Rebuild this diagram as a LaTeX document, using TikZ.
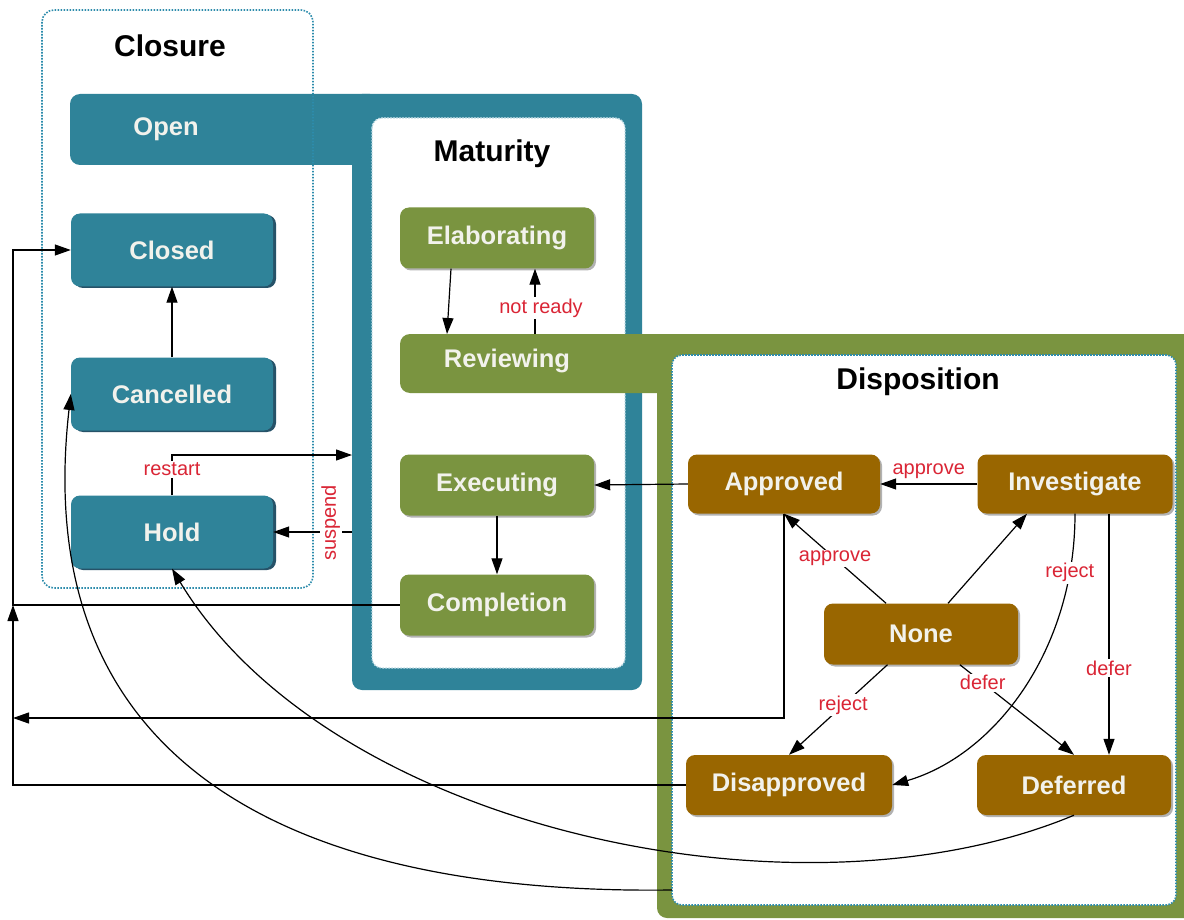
\documentclass[tikz,border=0pt]{standalone}
\usepackage{fontspec}
\setmainfont{Liberation Sans}
\usetikzlibrary{arrows.meta,shadows,calc}

\definecolor{closureteal}{RGB}{47,131,153}
\definecolor{closureshade}{RGB}{38,82,104}
\definecolor{maturitygreen}{RGB}{122,148,64}
\definecolor{dispbrown}{RGB}{153,102,0}
\definecolor{dotline}{RGB}{45,140,172}
\definecolor{labelred}{RGB}{218,37,53}
\definecolor{statetext}{RGB}{242,242,236}

\tikzset{
  statebox/.style={rounded corners=9pt, inner sep=0pt, text=statetext,
    font=\fontsize{25.5}{30}\selectfont\bfseries},
  closurestate/.style={statebox, fill=closureteal,
    drop shadow={shadow xshift=3pt, shadow yshift=-1.5pt, fill=closureshade, opacity=1},
    minimum width=202pt, minimum height=73pt},
  maturitystate/.style={statebox, fill=maturitygreen,
    drop shadow={shadow xshift=2pt, shadow yshift=-2pt, fill=black, opacity=0.3},
    minimum width=194pt, minimum height=61pt},
  dispstate/.style={statebox, fill=dispbrown,
    drop shadow={shadow xshift=2pt, shadow yshift=-2pt, fill=black, opacity=0.3},
    minimum height=59pt},
  grouptitle/.style={font=\fontsize{30}{34}\selectfont\bfseries, text=black},
  bandtext/.style={font=\fontsize{25.5}{30}\selectfont\bfseries, text=statetext},
  lbl/.style={text=labelred, font=\fontsize{20}{24}\selectfont, fill=white, inner sep=1.5pt},
  flow/.style={draw=black, line width=1.2pt, -{Triangle[length=16pt,width=11pt]}},
  dotborder/.style={draw=dotline, line width=1.6pt, dash pattern=on 1.6pt off 1.4pt},
}

\begin{document}
\begin{tikzpicture}[x=1pt,y=-1pt]
  \useasboundingbox (0,0) rectangle (1184,920);
  \clip (0,0) rectangle (1184,920);

  % Closure group background
  \fill[white, rounded corners=12pt] (42,10) rectangle (313,588);

  % Open band with the Maturity frame
  \fill[closureteal, rounded corners=10pt] (70,94) rectangle (380,165);
  \fill[closureteal, rounded corners=10pt] (352,94) rectangle (642,690);
  \filldraw[fill=white, draw=white!70!dotline, line width=1.4pt,
    dash pattern=on 1.6pt off 1.4pt, rounded corners=10pt] (372,118) rectangle (625,668);

  % Reviewing band with the Disposition frame
  \fill[maturitygreen, rounded corners=10pt] (400,334) rectangle (700,393);
  \fill[maturitygreen, rounded corners=10pt] (657,334) rectangle (1205,918);
  \filldraw[fill=white, dotborder, rounded corners=10pt] (672,355) rectangle (1176,905);

  % Closure group border
  \draw[dotborder, rounded corners=12pt] (42,10) rectangle (313,588);

  % Group titles and band labels
  \node[grouptitle] (tClosure) at (170,46) {Closure};
  \node[grouptitle] (tMaturity) at (492,154) {Maturity};
  \node[grouptitle] (tDisposition) at (918,382) {Disposition};
  \node[bandtext] (Open) at (166,129) {Open};
  \node[bandtext] (Reviewing) at (507,361) {Reviewing};

  % Closure states
  \node[closurestate] (Closed) at (172,250) {Closed};
  \node[closurestate] (Cancelled) at (172,394) {Cancelled};
  \node[closurestate] (Hold) at (172,532) {Hold};

  % Maturity states
  \node[maturitystate] (Elaborating) at (497,238) {Elaborating};
  \node[maturitystate] (Executing) at (497,485) {Executing};
  \node[maturitystate] (Completion) at (497,605) {Completion};

  % Disposition states
  \node[dispstate, minimum width=192pt] (Approved) at (784,484) {Approved};
  \node[dispstate, minimum width=195pt] (Investigate) at (1075,484) {Investigate};
  \node[dispstate, minimum width=194pt, minimum height=61pt] (None) at (921,634) {None};
  \node[dispstate, minimum width=206pt, minimum height=60pt] (Disapproved) at (789,785) {Disapproved};
  \node[dispstate, minimum width=194pt, minimum height=60pt] (Deferred) at (1074,785) {Deferred};

  % Points on the group frames and the left return rail
  \coordinate (revA) at (447,334);
  \coordinate (revB) at (535,334);
  \coordinate (matIn) at (352,455);
  \coordinate (matOut) at (352,532);
  \coordinate (rail) at (13,0);
  \coordinate (railLow) at (13,718);
  \coordinate (dispOut) at (672,890);

  % Maturity transitions
  \draw[flow] ($(Elaborating.south)+(-46,0)$) -- (revA);
  \draw[flow] (revB) -- node[lbl, pos=0.4, xshift=6pt] {not ready} ($(Elaborating.south)+(38,0)$);
  \draw[flow] (Approved.west) -- (Executing.east);
  \draw[flow] (Executing.south) -- (Completion.north);

  % Closure transitions
  \draw[flow] (Cancelled.north) -- (Closed.south);
  \draw[flow] (Hold.north) |- node[lbl, pos=0.32] {restart} (matIn);
  \draw[flow] (matOut) -- node[lbl, pos=0.27, yshift=9pt, rotate=90] {suspend} (Hold.east);

  % Return paths along the left rail
  \draw[flow] (Completion.west) -- (Completion.west -| rail) |- (Closed.west);
  \draw[flow] (Disapproved.west) -- (Disapproved.west -| rail) -- (Completion.west -| rail);
  \draw[flow] (Approved.south) |- (railLow);

  % Disposition transitions
  \draw[flow] (Investigate.west) -- node[lbl, fill=none, above=3pt] {approve} (Approved.east);
  \draw[flow] (None) -- node[lbl, pos=0.5] {approve} (Approved.south);
  \draw[flow] (None) -- ($(Investigate.south)+(-48,0)$);
  \draw[flow] (Investigate.south) .. controls (1075,650) and (995,755) ..
    node[lbl, pos=0.15] {reject} (Disapproved.east);
  \draw[flow] ($(Investigate.south)+(34,0)$) -- node[lbl, pos=0.64] {defer} ($(Deferred.north)+(35,0)$);
  \draw[flow] (None) -- node[lbl, pos=0.2] {defer} (Deferred.north);
  \draw[flow] (None) -- node[lbl, pos=0.45] {reject} (Disapproved.north);

  % Long curved returns
  \draw[flow] (dispOut) .. controls (300,895) and (28,770) .. (Cancelled.west);
  \draw[flow] (Deferred.south) .. controls (800,930) and (330,830) .. (Hold.south);
\end{tikzpicture}
\end{document}
